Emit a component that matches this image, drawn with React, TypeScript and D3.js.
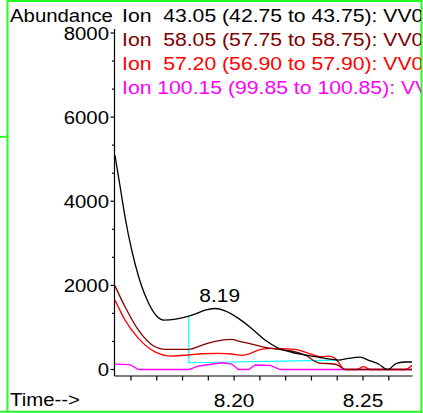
import React from 'react';
import * as d3 from 'd3';

// ---- data ----
const legendLabels = [
  'Ion  43.05 (42.75 to 43.75): VV0',
  'Ion  58.05 (57.75 to 58.75): VV0',
  'Ion  57.20 (56.90 to 57.90): VV0',
  'Ion 100.15 (99.85 to 100.85): VV0',
];
const seriesColors = ['#000000', '#800000', '#ff0000', '#ff00ff'];

const time43 = [8.1538, 8.1558, 8.1577, 8.1603, 8.1630, 8.1669, 8.1697, 8.1727, 8.1824, 8.1855, 8.1887, 8.1926, 8.1965, 8.2017, 8.2068, 8.2120, 8.2172, 8.2223, 8.2300, 8.2352, 8.2404, 8.2443, 8.2489, 8.2520, 8.2560, 8.2596, 8.2630, 8.2667, 8.2690];
const abund43 = [5090, 4340, 3625, 2835, 2200, 1570, 1290, 1175, 1270, 1335, 1410, 1450, 1395, 1215, 975, 700, 505, 410, 320, 265, 225, 265, 295, 225, 130, 0, 145, 178, 178];

const time58 = [8.1538, 8.1577, 8.1629, 8.1693, 8.1732, 8.1824, 8.1876, 8.1926, 8.1991, 8.2017, 8.2068, 8.2120, 8.2172, 8.2223, 8.2275, 8.2327, 8.2392, 8.2404, 8.2430, 8.2690];
const abund58 = [1990, 1490, 935, 540, 480, 480, 580, 670, 715, 675, 605, 525, 480, 440, 345, 160, 125, 100, 0, 0];

const time57 = [8.1538, 8.1577, 8.1629, 8.1693, 8.1758, 8.1824, 8.1876, 8.1940, 8.1991, 8.2030, 8.2056, 8.2108, 8.2146, 8.2237, 8.2289, 8.2340, 8.2366, 8.2392, 8.2430, 8.2476, 8.2502, 8.2528, 8.2664, 8.2690];
const abund57 = [1650, 1175, 740, 420, 320, 345, 375, 385, 368, 337, 368, 485, 503, 480, 384, 305, 320, 265, 0, 0, 66, 0, 0, 100];

const time100 = [8.1538, 8.1596, 8.1629, 8.1824, 8.1863, 8.1953, 8.1991, 8.2017, 8.2056, 8.2082, 8.2140, 8.2179, 8.2690];
const abund100 = [130, 114, 0, 0, 83, 160, 130, 0, 0, 107, 100, 0, 0];

const baselineTime = [8.1824, 8.1824, 8.2404];
const baselineAbund = [1270, 161, 225];
const peakLabel = '8.19';
const peakLabelTime = 8.1944;
const peakAbund = 1450;

const yTickValues = [0, 2000, 4000, 6000, 8000];
const xLabelValues = [8.20, 8.25];
const xMinorValues = [8.16, 8.17, 8.18, 8.19, 8.20, 8.21, 8.22, 8.23, 8.24, 8.25, 8.26];

const FONT = '"Liberation Sans", Arial, sans-serif';
const FS = 18.5;

function T(props: { x: number; y: number; sx?: number; anchor?: string; fill?: string; children: React.ReactNode }) {
  const sx = props.sx || 1.1;
  return (
    <text
      transform={`translate(${props.x},${props.y}) scale(${sx},1)`}
      textAnchor={props.anchor || 'start'}
      fill={props.fill || '#000'}
      fontFamily={FONT}
      fontSize={FS}
      xmlSpace="preserve"
      style={{ whiteSpace: 'pre' }}
    >
      {props.children}
    </text>
  );
}

export default function App() {
  const W = 423, H = 413;
  const x = d3.scaleLinear().domain([8.1538, 8.2690]).range([115, 412]);
  const y = d3.scaleLinear().domain([0, 8000]).range([369.5, 33]);
  const axisX = 114.5;
  const axisY = 376;

  const series = [
    { t: time43, v: abund43, curve: d3.curveMonotoneX },
    { t: time58, v: abund58, curve: d3.curveMonotoneX },
    { t: time57, v: abund57, curve: d3.curveMonotoneX },
    { t: time100, v: abund100, curve: d3.curveLinear },
  ];

  const yMinor = d3.range(0, 8000 + 1, 2000 / 3).filter((v) => Math.abs(v / 2000 - Math.round(v / 2000)) > 0.01);

  return (
    <svg width={W} height={H} style={{ position: 'absolute', left: 0, top: 0, background: '#fff' }}>
      <defs>
        <clipPath id="frameClip">
          <rect x={0} y={0} width={421} height={412} />
        </clipPath>
      </defs>
      <rect x={0} y={0} width={W} height={H} fill="#fff" />

      {/* frame */}
      <g stroke="#22ff22" strokeWidth={2} fill="none">
        <line x1={7.5} y1={0} x2={7.5} y2={412} />
        <line x1={7.5} y1={1} x2={422} y2={1} />
        <line x1={421.5} y1={0} x2={421.5} y2={413} />
        <line x1={0} y1={411.8} x2={422} y2={411.8} />
        <line x1={0} y1={136.8} x2={7.5} y2={136.8} />
      </g>

      {/* axes */}
      <g stroke="#000" strokeWidth={1.2} fill="none">
        <line x1={axisX} y1={29} x2={axisX} y2={axisY} />
        <line x1={axisX} y1={axisY} x2={412.5} y2={axisY} />
        {yTickValues.map((v) => (
          <line key={'yt' + v} x1={axisX - 4} y1={y(v)} x2={axisX} y2={y(v)} />
        ))}
        {yMinor.map((v) => (
          <line key={'ym' + v} x1={axisX - 2.5} y1={y(v)} x2={axisX} y2={y(v)} />
        ))}
        {xMinorValues.map((t) => (
          <line key={'xt' + t} x1={x(t)} y1={axisY} x2={x(t)} y2={axisY + 4.5} />
        ))}
      </g>

      {yTickValues.map((v) => (
        <T key={'yl' + v} x={109} y={y(v) + 6.5} anchor="end">{String(v)}</T>
      ))}
      {xLabelValues.map((t) => (
        <T key={'xl' + t} x={x(t)} y={406.5} anchor="middle" sx={1.13}>{t.toFixed(2)}</T>
      ))}

      {/* baseline of integration */}
      <path
        d={d3.line<number>().x((_, i) => x(baselineTime[i])).y((v) => y(v))(baselineAbund) || ''}
        stroke="#00ffff"
        strokeWidth={1.2}
        fill="none"
      />

      {/* series, drawn bottom-up so black stays on top */}
      {series.slice().reverse().map((s, ri) => {
        const i = series.length - 1 - ri;
        const gen = d3.line<number>().x((_, k) => x(s.t[k])).y((v) => y(v)).curve(s.curve);
        return <path key={'s' + i} d={gen(s.v) || ''} stroke={seriesColors[i]} strokeWidth={1.3} fill="none" />;
      })}

      <T x={x(peakLabelTime)} y={y(peakAbund) - 6.5} anchor="middle" sx={1.13}>{peakLabel}</T>

      <T x={10} y={21.5} sx={1.1}>Abundance</T>
      <T x={10} y={406}>Time--&gt;</T>

      <g clipPath="url(#frameClip)">
        {legendLabels.map((s, i) => (
          <T key={'lg' + i} x={122} y={21.5 + i * 24.2} sx={1.145} fill={seriesColors[i]}>
            {s.replace(/  /g, ' \u00A0')}
          </T>
        ))}
      </g>
    </svg>
  );
}
